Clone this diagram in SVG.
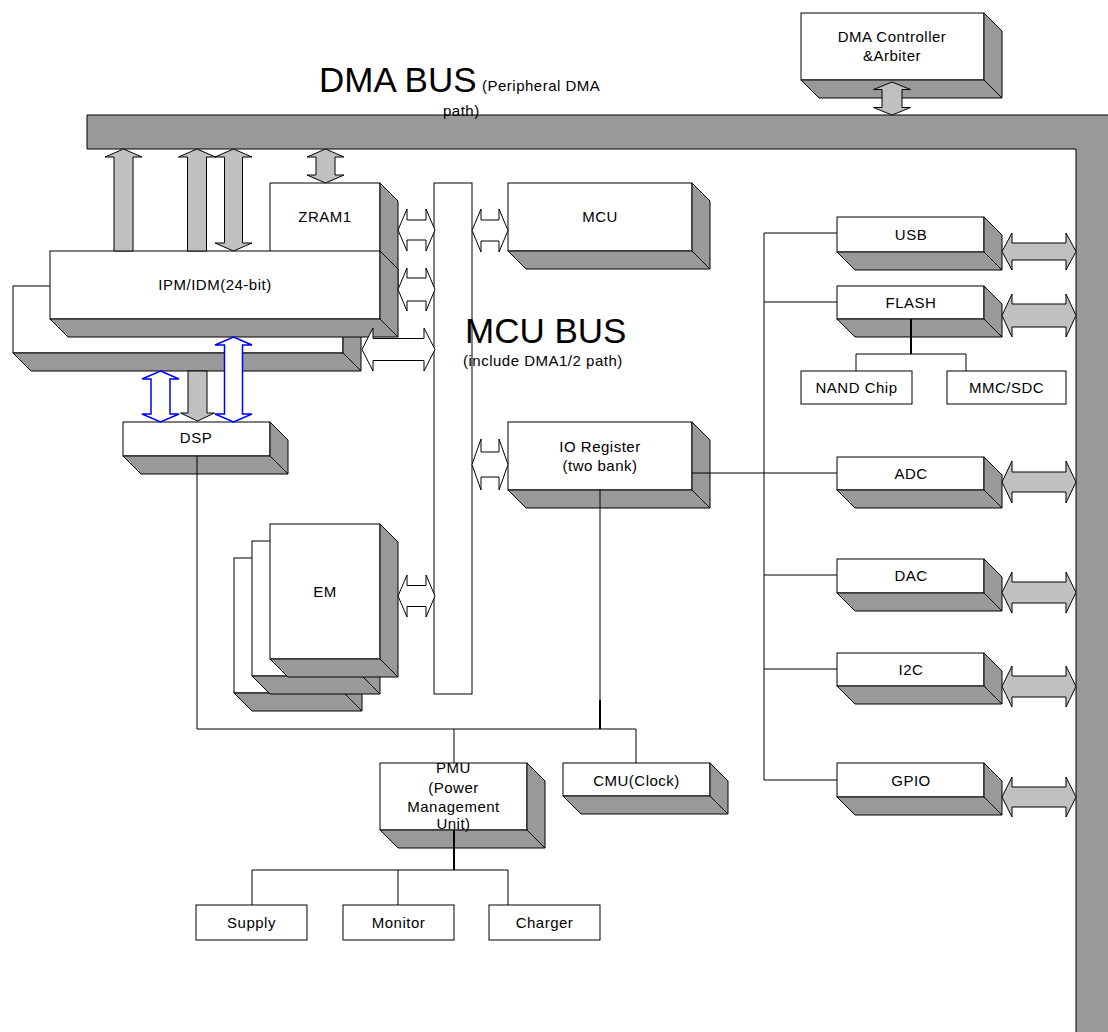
<svg xmlns="http://www.w3.org/2000/svg" width="1108" height="1032" viewBox="0 0 1108 1032">
<style>
.f{fill:#fff;stroke:#000;stroke-width:1}
.s{fill:#999;stroke:#000;stroke-width:1}
.g{fill:#c0c0c0;stroke:#000;stroke-width:1}
.o{fill:#fff;stroke:#000;stroke-width:1}
.b{fill:#fff;stroke:#00f;stroke-width:1.5}
.t{font-family:"Liberation Sans",Arial,sans-serif;font-size:15px;letter-spacing:0.5px;fill:#000;text-anchor:middle}
.l{text-anchor:start}
.big{font-size:35px;letter-spacing:0}
.c line,.c polyline{stroke:#000;stroke-width:1;fill:none}
.c .k{stroke-width:2}
</style>
<rect x="0" y="0" width="1108" height="1032" fill="#fff"/>
<g id="dma-bus">
<path class="s" d="M87,115 H1110 V1034 H1076 V149 H87 Z"/>
<text class="t l big" x="319" y="92">DMA BUS</text>
<text class="t l" x="482" y="91">(Peripheral DMA</text>
<text class="t l" x="443" y="116">path)</text>
</g>
<g id="dma-controller">
<rect class="f" x="801" y="13" width="183" height="67"/>
<polygon class="s" points="984,13 1002,31 1002,98 984,80"/>
<polygon class="s" points="801,80 819,98 1002,98 984,80"/>
<text class="t" x="892" y="42">DMA Controller</text>
<text class="t" x="892" y="61">&amp;Arbiter</text>
</g>
<g id="zram1">
<rect class="f" x="270" y="183" width="110" height="86"/>
<polygon class="s" points="380,183 398,201 398,287 380,269"/>
<text class="t" x="325" y="222">ZRAM1</text>
</g>
<g id="ipm-back">
<rect class="f" x="13" y="286" width="330" height="67"/>
<polygon class="s" points="343,286 361,304 361,371 343,353"/>
<polygon class="s" points="13,353 31,371 361,371 343,353"/>
</g>
<g id="ipm-idm">
<rect class="f" x="50" y="251" width="330" height="68"/>
<polygon class="s" points="380,251 398,269 398,337 380,319"/>
<polygon class="s" points="50,319 68,337 398,337 380,319"/>
<text class="t" x="215" y="290">IPM/IDM(24-bit)</text>
</g>
<g id="mcu-bus">
<rect class="f" x="434" y="183" width="38" height="511"/>
<text class="t l big" x="465" y="343">MCU BUS</text>
<text class="t l" x="463" y="366">(include DMA1/2 path)</text>
</g>
<g id="mcu">
<rect class="f" x="508" y="183" width="184" height="68"/>
<polygon class="s" points="692,183 710,201 710,269 692,251"/>
<polygon class="s" points="508,251 526,269 710,269 692,251"/>
<text class="t" x="600" y="222">MCU</text>
</g>
<g id="io-register">
<rect class="f" x="508" y="422" width="184" height="68"/>
<polygon class="s" points="692,422 710,440 710,508 692,490"/>
<polygon class="s" points="508,490 526,508 710,508 692,490"/>
<text class="t" x="600" y="452">IO Register</text>
<text class="t" x="600" y="471">(two bank)</text>
</g>
<g id="dsp">
<rect class="f" x="123" y="422" width="147" height="34"/>
<polygon class="s" points="270,422 288,440 288,474 270,456"/>
<polygon class="s" points="123,456 141,474 288,474 270,456"/>
<text class="t" x="196" y="443">DSP</text>
</g>
<g id="em">
<rect class="f" x="234" y="558" width="110" height="135"/>
<polygon class="s" points="344,558 362,576 362,711 344,693"/>
<polygon class="s" points="234,693 252,711 362,711 344,693"/>
<rect class="f" x="252" y="541" width="110" height="135"/>
<polygon class="s" points="362,541 380,559 380,694 362,676"/>
<polygon class="s" points="252,676 270,694 380,694 362,676"/>
<rect class="f" x="270" y="524" width="110" height="135"/>
<polygon class="s" points="380,524 398,542 398,677 380,659"/>
<polygon class="s" points="270,659 288,677 398,677 380,659"/>
<text class="t" x="325" y="597">EM</text>
</g>
<g id="usb">
<rect class="f" x="837" y="217" width="147" height="35"/>
<polygon class="s" points="984,217 1002,235 1002,270 984,252"/>
<polygon class="s" points="837,252 855,270 1002,270 984,252"/>
<text class="t" x="911" y="240">USB</text>
</g>
<g id="flash">
<rect class="f" x="837" y="286" width="147" height="33"/>
<polygon class="s" points="984,286 1002,304 1002,337 984,319"/>
<polygon class="s" points="837,319 855,337 1002,337 984,319"/>
<text class="t" x="911" y="308">FLASH</text>
</g>
<g id="nand">
<rect class="f" x="801" y="371" width="111" height="33"/>
<text class="t" x="856.5" y="393">NAND Chip</text>
</g>
<g id="mmc">
<rect class="f" x="947" y="371" width="119" height="33"/>
<text class="t" x="1006.5" y="393">MMC/SDC</text>
</g>
<g id="adc">
<rect class="f" x="837" y="457" width="147" height="33"/>
<polygon class="s" points="984,457 1002,475 1002,508 984,490"/>
<polygon class="s" points="837,490 855,508 1002,508 984,490"/>
<text class="t" x="911" y="479">ADC</text>
</g>
<g id="dac">
<rect class="f" x="837" y="559" width="147" height="34"/>
<polygon class="s" points="984,559 1002,577 1002,611 984,593"/>
<polygon class="s" points="837,593 855,611 1002,611 984,593"/>
<text class="t" x="911" y="581">DAC</text>
</g>
<g id="i2c">
<rect class="f" x="837" y="653" width="147" height="33"/>
<polygon class="s" points="984,653 1002,671 1002,704 984,686"/>
<polygon class="s" points="837,686 855,704 1002,704 984,686"/>
<text class="t" x="911" y="675">I2C</text>
</g>
<g id="gpio">
<rect class="f" x="837" y="763" width="147" height="34"/>
<polygon class="s" points="984,763 1002,781 1002,815 984,797"/>
<polygon class="s" points="837,797 855,815 1002,815 984,797"/>
<text class="t" x="911" y="786">GPIO</text>
</g>
<g id="pmu">
<rect class="f" x="380" y="763" width="147" height="67"/>
<polygon class="s" points="527,763 545,781 545,848 527,830"/>
<polygon class="s" points="380,830 398,848 545,848 527,830"/>
<text class="t" x="453.5" y="773">PMU</text>
<text class="t" x="453.5" y="793">(Power</text>
<text class="t" x="453.5" y="812">Management</text>
<text class="t" x="453.5" y="829">Unit)</text>
</g>
<g id="cmu">
<rect class="f" x="563" y="763" width="147" height="33"/>
<polygon class="s" points="710,763 728,781 728,814 710,796"/>
<polygon class="s" points="563,796 581,814 728,814 710,796"/>
<text class="t" x="636.5" y="786">CMU(Clock)</text>
</g>
<g id="supply">
<rect class="f" x="196" y="905" width="111" height="35"/>
<text class="t" x="251.5" y="928">Supply</text>
</g>
<g id="monitor">
<rect class="f" x="343" y="905" width="111" height="35"/>
<text class="t" x="398.5" y="928">Monitor</text>
</g>
<g id="charger">
<rect class="f" x="489" y="905" width="111" height="35"/>
<text class="t" x="544.5" y="928">Charger</text>
</g>
<g id="connectors" class="c">
<polygon class="g" points="123.5,149 142,157 133,157 133,251 114,251 114,157 105,157"/>
<polygon class="g" points="197,149 215.5,157 206.5,157 206.5,251 187.5,251 187.5,157 178.5,157"/>
<polygon class="g" points="233.5,149 252,157 242.5,157 242.5,243 252,243 233.5,251 215,243 224.5,243 224.5,157 215,157"/>
<polygon class="g" points="325.5,149 344,157 335,157 335,175 344,175 325.5,183 307,175 316,175 316,157 307,157"/>
<polygon class="g" points="892,82 910.5,89.5 902,89.5 902,107.5 910.5,107.5 892,115 873.5,107.5 882,107.5 882,89.5 873.5,89.5"/>
<polygon class="g" points="188,371 207,371 207,413 214.5,413 197.5,421 180.5,413 188,413"/>
<polygon class="b" points="160.5,371 179,379 170,379 170,414 179,414 160.5,422 142,414 151,414 151,379 142,379"/>
<polygon class="b" points="233.5,337 252,345 242.5,345 242.5,414 252,414 233.5,422 215,414 224.5,414 224.5,345 215,345"/>
<polygon class="o" points="398,230 407,209 407,220 426,220 426,209 435,230 426,251 426,240 407,240 407,251"/>
<polygon class="o" points="398,289.5 407,268 407,278 426,278 426,268 435,289.5 426,311 426,301 407,301 407,311"/>
<polygon class="o" points="362,349.5 373,328 373,338.5 424,338.5 424,328 435,349.5 424,371 424,360.5 373,360.5 373,371"/>
<polygon class="o" points="472,230.5 481,209 481,220 499,220 499,209 508,230.5 499,252 499,241 481,241 481,252"/>
<polygon class="o" points="472,464.5 481,439 481,452 499,452 499,439 508,464.5 499,490 499,477 481,477 481,490"/>
<polygon class="o" points="398,596 407,575 407,585.5 426,585.5 426,575 435,596 426,617 426,606.5 407,606.5 407,617"/>
<polygon class="g" points="1002,251.5 1012,233 1012,243 1066,243 1066,233 1076,251.5 1066,270 1066,260 1012,260 1012,270"/>
<polygon class="g" points="1002,315.5 1012,294 1012,304 1066,304 1066,294 1076,315.5 1066,337 1066,327 1012,327 1012,337"/>
<polygon class="g" points="1002,482 1012,461 1012,472 1066,472 1066,461 1076,482 1066,503 1066,492 1012,492 1012,503"/>
<polygon class="g" points="1002,592.5 1012,572 1012,582 1066,582 1066,572 1076,592.5 1066,613 1066,603 1012,603 1012,613"/>
<polygon class="g" points="1002,686.5 1012,666 1012,676 1066,676 1066,666 1076,686.5 1066,707 1066,697 1012,697 1012,707"/>
<polygon class="g" points="1002,797 1012,777 1012,787 1066,787 1066,777 1076,797 1066,817 1066,807 1012,807 1012,817"/>
<line x1="764" y1="233" x2="764" y2="780"/>
<line x1="764" y1="233" x2="837" y2="233"/>
<line x1="764" y1="302" x2="837" y2="302"/>
<line x1="692" y1="473" x2="837" y2="473"/>
<line x1="764" y1="575" x2="837" y2="575"/>
<line x1="764" y1="669" x2="837" y2="669"/>
<line x1="764" y1="780" x2="837" y2="780"/>
<line class="k" x1="911" y1="319" x2="911" y2="354"/>
<polyline points="856,371 856,354 966,354 966,371"/>
<line x1="600" y1="490" x2="600" y2="700"/>
<line class="k" x1="600" y1="700" x2="600" y2="729"/>
<polyline points="197,456 197,729 636,729 636,763"/>
<line x1="454" y1="729" x2="454" y2="763"/>
<line class="k" x1="454" y1="830" x2="454" y2="870"/>
<polyline points="252,905 252,870 508,870 508,905"/>
<line x1="398" y1="870" x2="398" y2="905"/>
</g>
</svg>
